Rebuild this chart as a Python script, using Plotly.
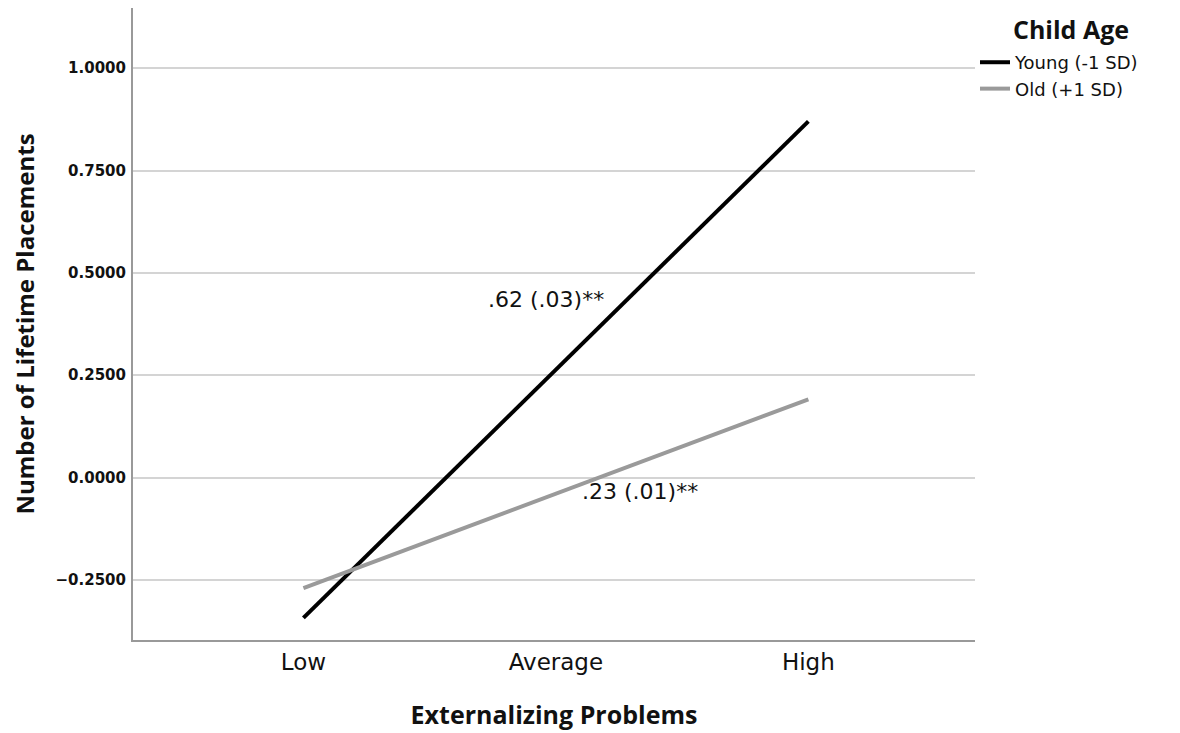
import plotly.graph_objects as go

categories = ["Low", "Average", "High"]
young_values = [-0.343, 0.264, 0.870]
old_values = [-0.270, -0.040, 0.191]
series_names = ["Young (-1 SD)", "Old (+1 SD)"]
legend_title = "Child Age"
y_tick_values = [-0.25, 0.0, 0.25, 0.5, 0.75, 1.0]
slope_labels = [".62 (.03)**", ".23 (.01)**"]

xpos = list(range(len(categories)))

fig = go.Figure()
fig.add_trace(go.Scatter(x=xpos, y=young_values, mode="lines", name=series_names[0],
                         line=dict(color="#000000", width=4)))
fig.add_trace(go.Scatter(x=xpos, y=old_values, mode="lines", name=series_names[1],
                         line=dict(color="#9a9a9a", width=4)))

fig.add_annotation(x=0.96, y=0.436, xref="x", yref="y", text=slope_labels[0],
                   showarrow=False, font=dict(family="DejaVu Sans", size=22, color="#111"))
fig.add_annotation(x=1.335, y=-0.034, xref="x", yref="y", text=slope_labels[1],
                   showarrow=False, font=dict(family="DejaVu Sans", size=22, color="#111"))
fig.add_annotation(x=1.114, y=0.967, xref="paper", yref="paper", text="<b>" + legend_title + "</b>",
                   showarrow=False, xanchor="center", yanchor="middle",
                   font=dict(family="Open Sans", size=25, color="#111"))

fig.update_layout(
    width=1180, height=733,
    margin=dict(l=125, r=213, t=0, b=101),
    paper_bgcolor="white", plot_bgcolor="white",
    showlegend=True,
    legend=dict(
        x=1.0, xanchor="left", y=0.943, yanchor="top",
        font=dict(family="DejaVu Sans", size=18, color="#111"),
        tracegroupgap=0, itemwidth=30,
        bgcolor="rgba(0,0,0,0)",
    ),
    xaxis=dict(
        range=[-0.675, 2.66], tickmode="array", tickvals=xpos, ticktext=categories,
        showgrid=False, zeroline=False, showline=True, linecolor="#999", linewidth=2,
        ticks="", tickfont=dict(family="DejaVu Sans", size=23, color="#111"),
        title=dict(text="<b>Externalizing Problems</b>", standoff=33,
                   font=dict(family="Open Sans", size=25, color="#111")),
    ),
    yaxis=dict(
        range=[-0.397, 1.147], tickmode="array", tickvals=y_tick_values, tickformat=".4f",
        showgrid=True, gridcolor="#d4d4d4", gridwidth=2, zeroline=False,
        showline=True, linecolor="#999", linewidth=2, ticks="",
        ticklabelstandoff=2,
        tickfont=dict(family="DejaVu Sans", size=15, color="#111", weight="bold"),
        title=dict(text="<b>Number of Lifetime Placements</b>", standoff=17,
                   font=dict(family="Open Sans", size=24, color="#111")),
    ),
)

fig.write_html("out.html")
